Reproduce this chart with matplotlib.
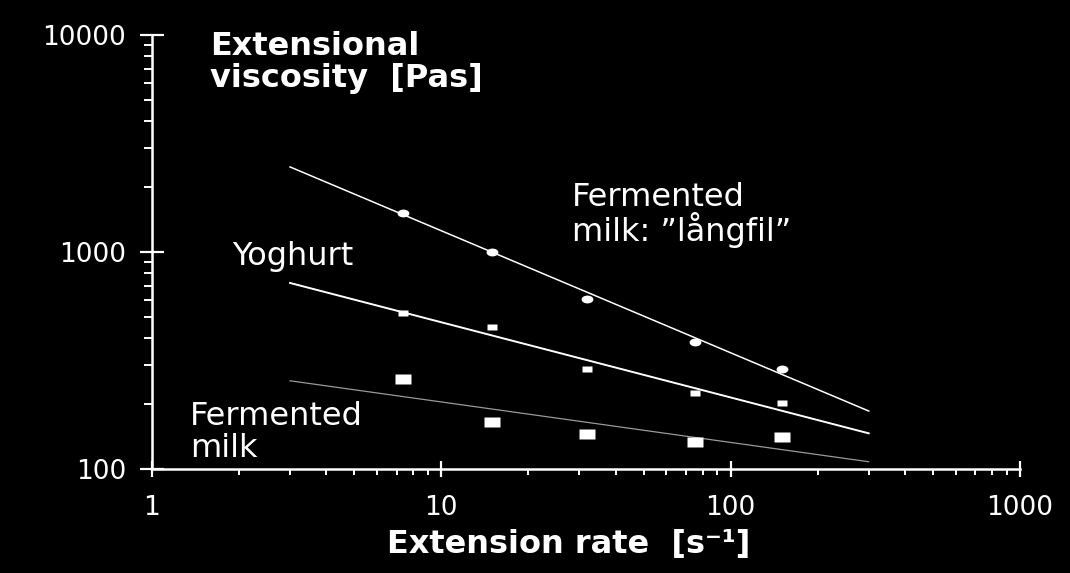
import matplotlib
matplotlib.use("Agg")
import matplotlib.pyplot as plt
import matplotlib.ticker as mticker
from matplotlib.path import Path
from matplotlib.transforms import Affine2D

# extension rate [1/s] and measured extensional viscosity [Pas]
rate = [7.4, 15, 32, 75, 150]
langfil = [1510, 1000, 605, 385, 288]
yoghurt = [525, 451, 289, 225, 201]
fermented = [260, 164, 145, 133, 141]

# power-law fit lines, drawn from 3 to 300 1/s
fit_rate = [3, 300]
fit_langfil = [2466, 185]
fit_yoghurt = [720, 146]
fit_fermented = [255, 108]

x_ticks = [1, 10, 100, 1000]
y_ticks = [100, 1000, 10000]

# wide markers (the original slide is stretched horizontally)
oval = Path.unit_circle().transformed(Affine2D().scale(1.5, 1.0))
rect = Path([(-1, -1), (1, -1), (1, 1), (-1, 1), (-1, -1)],
            [Path.MOVETO, Path.LINETO, Path.LINETO, Path.LINETO, Path.CLOSEPOLY])
rect_wide = rect.transformed(Affine2D().scale(1.6, 1.0))

plt.rcParams['font.family'] = ['DejaVu Sans']

fig = plt.figure(figsize=(10.7, 5.73), dpi=100, facecolor='black')
ax = fig.add_axes([152 / 1070, 1 - 469 / 573, 868 / 1070, 434 / 573])
ax.set_facecolor('black')

ax.plot(fit_rate, fit_langfil, color='white', lw=1.1)
ax.plot(fit_rate, fit_yoghurt, color='white', lw=1.4)
ax.plot(fit_rate, fit_fermented, color='#9a9a9a', lw=0.9)

ax.plot(rate, langfil, ls='none', marker=oval, ms=8.5, color='white', mec='none')
ax.plot(rate, yoghurt, ls='none', marker=rect_wide, ms=7, color='white', mec='none')
ax.plot(rate, fermented, ls='none', marker=rect_wide, ms=11, color='white', mec='none')

ax.set_xscale('log')
ax.set_yscale('log')
ax.set_xlim(1, 1000)
ax.set_ylim(100, 10000)
ax.set_xticks(x_ticks)
ax.set_yticks(y_ticks)
fmt = mticker.FuncFormatter(lambda v, p: f'{v:g}')
ax.xaxis.set_major_formatter(fmt)
ax.yaxis.set_major_formatter(fmt)
ax.xaxis.set_minor_formatter(mticker.NullFormatter())
ax.yaxis.set_minor_formatter(mticker.NullFormatter())

for s in ['top', 'right']:
    ax.spines[s].set_visible(False)
for s in ['left', 'bottom']:
    ax.spines[s].set_color('white')
    ax.spines[s].set_linewidth(1.8)

ax.tick_params(axis='x', which='major', direction='inout', length=12, width=1.6,
               colors='white', labelsize=19, pad=13)
ax.tick_params(axis='y', which='major', direction='inout', length=17, width=1.6,
               colors='white', labelsize=19, pad=10)
ax.tick_params(axis='x', which='minor', direction='out', length=4.5, width=1.4, colors='white')
ax.tick_params(axis='y', which='minor', direction='out', length=6, width=1.4, colors='white')

ax.set_xlabel('Extension rate  [s\u207b\u00b9]', color='white', fontsize=23,
              fontweight='bold')
ax.xaxis.set_label_coords(0.4804, -0.1935, transform=ax.transAxes)
ax.xaxis.label.set_va('baseline')

ax.text(0.0668, 0.881, 'Extensional\nviscosity  [Pas]', transform=ax.transAxes,
        color='white', fontsize=23, fontweight='bold', va='baseline', ha='left',
        linespacing=1.03)

ax.text(1.89, 871, 'Yoghurt', color='white', fontsize=23, va='baseline', ha='left')
ax.text(1.35, 114, 'Fermented\nmilk', color='white', fontsize=23, va='baseline',
        ha='left', linespacing=1.03)
ax.text(28.2, 1124, 'Fermented\nmilk: \u201dl\u00e5ngfil\u201d', color='white', fontsize=23,
        va='baseline', ha='left', linespacing=0.97)

fig.savefig('out.png', dpi=100, facecolor='black')
